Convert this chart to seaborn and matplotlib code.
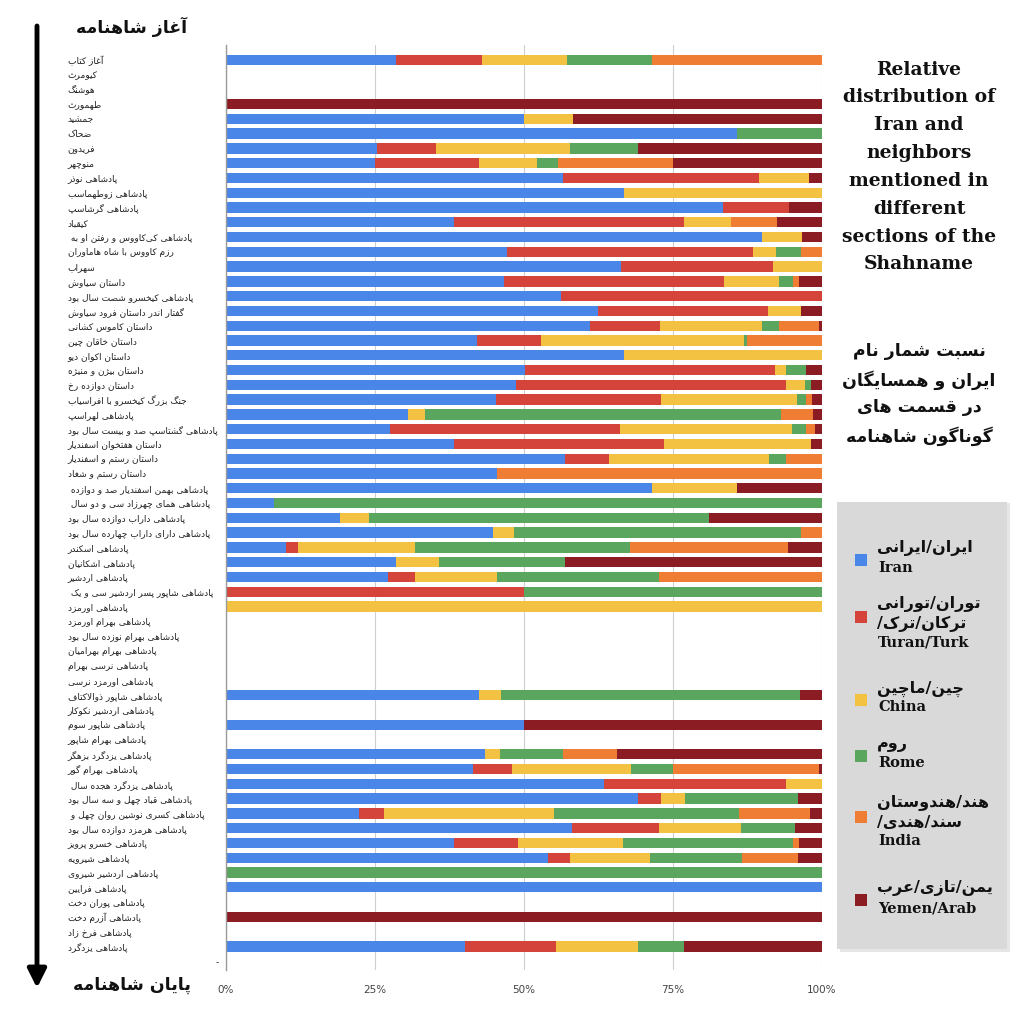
import matplotlib
matplotlib.use("Agg")
import matplotlib.pyplot as plt
import numpy as np
import pandas as pd
import seaborn as sns
from matplotlib.patches import Rectangle
from matplotlib.transforms import ScaledTranslation

# ---------------- data ----------------
sections = [
    "آغاز کتاب", "کیومرث", "هوشنگ", "طهمورث", "جمشید", "ضحاک", "فریدون", "منوچهر",
    "پادشاهی نوذر", "پادشاهی زوطهماسب", "پادشاهی گرشاسپ", "کیقباد",
    "پادشاهی کی\u200cکاووس و رفتن او به ", "رزم کاووس با شاه هاماوران", "سهراب", "داستان سیاوش",
    "پادشاهی کیخسرو شصت سال بود", "گفتار اندر داستان فرود سیاوش", "داستان کاموس کشانی",
    "داستان خاقان چین", "داستان اکوان دیو", "داستان بیژن و منیژه", "داستان دوازده رخ",
    "جنگ بزرگ کیخسرو با افراسیاب", "پادشاهی لهراسپ", "پادشاهی گشتاسپ صد و بیست سال بود",
    "داستان هفتخوان اسفندیار", "داستان رستم و اسفندیار", "داستان رستم و شغاد",
    "پادشاهی بهمن اسفندیار صد و دوازده ", "پادشاهی همای چهرزاد سی و دو سال ",
    "پادشاهی داراب دوازده سال بود", "پادشاهی دارای داراب چهارده سال بود", "پادشاهی اسکندر",
    "پادشاهی اشکانیان", "پادشاهی اردشیر", "پادشاهی شاپور پسر اردشیر سی و یک ",
    "پادشاهی اورمزد", "پادشاهی بهرام اورمزد", "پادشاهی بهرام نوزده سال بود",
    "پادشاهی بهرام بهرامیان", "پادشاهی نرسی بهرام", "پادشاهی اورمزد نرسی",
    "پادشاهی شاپور ذوالاکتاف", "پادشاهی اردشیر نکوکار", "پادشاهی شاپور سوم",
    "پادشاهی بهرام شاپور", "پادشاهی یزدگرد بزهگر", "پادشاهی بهرام گور",
    "پادشاهی یزدگرد هجده سال ", "پادشاهی قباد چهل و سه سال بود",
    "پادشاهی کسری نوشین روان چهل و ", "پادشاهی هرمزد دوازده سال بود", "پادشاهی خسرو پرویز",
    "پادشاهی شیرویه", "پادشاهی اردشیر شیروی", "پادشاهی فرایین", "پادشاهی پوران دخت",
    "پادشاهی آزرم دخت", "پادشاهی فرخ زاد", "پادشاهی یزدگرد", "-",
]

iran = [28.6, 0, 0, 0, 50, 85.7, 25.4, 25, 56.5, 66.7, 83.4, 38.3, 89.9, 47.1, 66.3, 46.6,
        56.2, 62.4, 61.1, 42.1, 66.8, 50.2, 48.7, 45.3, 30.5, 27.5, 38.3, 56.9, 45.5, 71.5,
        8, 19.1, 44.8, 10.1, 28.5, 27.2, 0, 0, 0, 0, 0, 0, 0, 42.4, 0, 50, 0, 43.5, 41.4,
        63.4, 69.1, 22.3, 58, 38.3, 54, 0, 100, 0, 0, 0, 40.1, 0]
turan = [14.3, 0, 0, 0, 0, 0, 9.9, 17.4, 32.9, 0, 11.1, 38.5, 0, 41.3, 25.5, 37,
         43.8, 28.5, 11.7, 10.8, 0, 41.9, 45.3, 27.7, 0, 38.6, 35.2, 7.4, 0, 0,
         0, 0, 0, 2.0, 0, 4.5, 50, 0, 0, 0, 0, 0, 0, 0, 0, 0, 0, 0, 6.6,
         30.6, 3.9, 4.2, 14.7, 10.7, 3.7, 0, 0, 0, 0, 0, 15.3, 0]
china = [14.3, 0, 0, 0, 8.3, 0, 22.5, 9.8, 8.4, 33.3, 0, 7.9, 6.7, 3.9, 8.2, 9.2,
         0, 5.6, 17.1, 34.0, 33.2, 1.9, 3.1, 22.8, 2.9, 28.9, 24.7, 26.8, 0, 14.2,
         0, 4.9, 3.5, 19.6, 7.2, 13.8, 0, 100, 0, 0, 0, 0, 0, 3.7, 0, 0, 0, 2.5, 20,
         6, 4, 28.5, 13.7, 17.6, 13.4, 0, 0, 0, 0, 0, 13.7, 0]
rome = [14.3, 0, 0, 0, 0, 14.3, 11.3, 3.5, 0, 0, 0, 0, 0, 4.2, 0, 2.3,
        0, 0, 2.9, 0.5, 0, 3.3, 1.1, 1.5, 59.7, 2.3, 0, 2.9, 0, 0,
        92, 57, 48.2, 36.1, 21.2, 27.2, 50, 0, 0, 0, 0, 0, 0, 50.2, 0, 0, 0, 10.5, 7,
        0, 19, 31.1, 9.1, 28.5, 15.5, 100, 0, 0, 0, 0, 7.7, 0]
india = [28.5, 0, 0, 0, 0, 0, 0, 19.3, 0, 0, 0, 7.7, 0, 3.5, 0, 1.0,
         0, 0, 6.7, 12.6, 0, 0, 0, 1.0, 5.4, 1.5, 0, 6.0, 54.5, 0,
         0, 0, 3.5, 26.5, 0, 27.3, 0, 0, 0, 0, 0, 0, 0, 0, 0, 0, 0, 9.1, 24.5,
         0, 0, 11.9, 0, 1.0, 9.4, 0, 0, 0, 0, 0, 0, 0]
arab = [0, 0, 0, 100, 41.7, 0, 30.9, 25, 2.2, 0, 5.5, 7.6, 3.4, 0, 0, 3.9,
        0, 3.5, 0.5, 0, 0, 2.7, 1.8, 1.7, 1.5, 1.2, 1.8, 0, 0, 14.3,
        0, 19, 0, 5.7, 43.1, 0, 0, 0, 0, 0, 0, 0, 0, 3.7, 0, 50, 0, 34.4, 0.5,
        0, 4, 2, 4.5, 3.9, 4, 0, 0, 0, 100, 0, 23.2, 0]

series_en = ["Iran", "Turan/Turk", "China", "Rome", "India", "Yemen/Arab"]
series_fa = [["ایران/ایرانی"], ["توران/تورانی", "ترکان/ترک/"], ["چین/ماچین"], ["روم"],
             ["هند/هندوستان", "سند/هندی/"], ["یمن/تازی/عرب"]]
colors = ["#4a86e8", "#d5443a", "#f4c243", "#5ba65e", "#ef7d33", "#8c1c24"]
x_ticks = [0, 25, 50, 75, 100]
x_tick_labels = ["0%", "25%", "50%", "75%", "100%"]
title_en = "Relative\ndistribution of\nIran and\nneighbors\nmentioned in\ndifferent\nsections of the\nShahname"
title_fa = ["نسبت شمار نام", "ایران و همسایگان", "در قسمت های", "گوناگون شاهنامه"]
start_label = "آغاز شاهنامه"
end_label = "پایان شاهنامه"

# ---------------- Persian shaping (presentation forms + RTL order) ----------------
_FORMS_HEX = {
    'آ': 'FE81 FE82', 'أ': 'FE83 FE84', 'ؤ': 'FE85 FE86', 'إ': 'FE87 FE88',
    'ئ': 'FE89 FE8A FE8B FE8C', 'ا': 'FE8D FE8E', 'ب': 'FE8F FE90 FE91 FE92', 'ة': 'FE93 FE94',
    'ت': 'FE95 FE96 FE97 FE98', 'ث': 'FE99 FE9A FE9B FE9C', 'ج': 'FE9D FE9E FE9F FEA0',
    'ح': 'FEA1 FEA2 FEA3 FEA4', 'خ': 'FEA5 FEA6 FEA7 FEA8', 'د': 'FEA9 FEAA', 'ذ': 'FEAB FEAC',
    'ر': 'FEAD FEAE', 'ز': 'FEAF FEB0', 'س': 'FEB1 FEB2 FEB3 FEB4', 'ش': 'FEB5 FEB6 FEB7 FEB8',
    'ص': 'FEB9 FEBA FEBB FEBC', 'ض': 'FEBD FEBE FEBF FEC0', 'ط': 'FEC1 FEC2 FEC3 FEC4',
    'ظ': 'FEC5 FEC6 FEC7 FEC8', 'ع': 'FEC9 FECA FECB FECC', 'غ': 'FECD FECE FECF FED0',
    'ف': 'FED1 FED2 FED3 FED4', 'ق': 'FED5 FED6 FED7 FED8', 'ك': 'FED9 FEDA FEDB FEDC',
    'ل': 'FEDD FEDE FEDF FEE0', 'م': 'FEE1 FEE2 FEE3 FEE4', 'ن': 'FEE5 FEE6 FEE7 FEE8',
    'ه': 'FEE9 FEEA FEEB FEEC', 'و': 'FEED FEEE', 'ى': 'FEEF FEF0', 'ي': 'FEF1 FEF2 FEF3 FEF4',
    'پ': 'FB56 FB57 FB58 FB59', 'چ': 'FB7A FB7B FB7C FB7D', 'ژ': 'FB8A FB8B',
    'ک': 'FB8E FB8F FB90 FB91', 'گ': 'FB92 FB93 FB94 FB95', 'ی': 'FBFC FBFD FBFE FBFF',
}
FORMS = {k: [chr(int(h, 16)) for h in v.split()] for k, v in _FORMS_HEX.items()}
LAM_ALEF = {'ا': '\uFEFB', 'آ': '\uFEF5', 'أ': '\uFEF7', 'إ': '\uFEF9'}


def _dual(c):
    return c in FORMS and len(FORMS[c]) == 4


def shape(text):
    chars = list(text)
    n = len(chars)
    out = []
    i = 0
    while i < n:
        c = chars[i]
        if c not in FORMS:
            if c != '\u200c':
                out.append(c)
            i += 1
            continue
        prev = chars[i - 1] if i > 0 else None
        jp = prev is not None and _dual(prev)
        if c == 'ل' and i + 1 < n and chars[i + 1] in LAM_ALEF:
            lig = LAM_ALEF[chars[i + 1]]
            out.append(chr(ord(lig) + 1) if jp else lig)
            i += 2
            continue
        nxt = chars[i + 1] if i + 1 < n else None
        jn = _dual(c) and nxt is not None and nxt in FORMS
        f = FORMS[c]
        if jp and jn:
            g = f[3]
        elif jp:
            g = f[1]
        elif jn:
            g = f[2]
        else:
            g = f[0]
        out.append(g)
        i += 1
    return ''.join(out)[::-1]


# ---------------- figure ----------------
sns.set_theme(style="white")
plt.rcParams['font.family'] = ['DejaVu Sans']

fig = plt.figure(figsize=(10.24, 10.24), dpi=100)
fig.patch.set_facecolor("white")
ax = fig.add_axes([226 / 1024, 1 - 970 / 1024, (822 - 226) / 1024, (970 - 45) / 1024])

labels = [shape(s) for s in sections]
vals = np.array([iran, turan, china, rome, india, arab], dtype=float).T
cum = np.cumsum(vals, axis=1)

for k in reversed(range(6)):
    sns.barplot(x=cum[:, k], y=labels, order=labels, color=colors[k], orient="h",
                width=0.7, saturation=1, linewidth=0, ax=ax)

ax.set_xlim(0, 100)
ax.set_ylim(61.6, -1.0)
ax.set_xticks(x_ticks)
ax.set_xticklabels(x_tick_labels)
ax.set_xlabel("")
ax.set_ylabel("")
ax.grid(axis="x", color="#cfcfcf", linewidth=0.8)
ax.set_axisbelow(True)
for s in ["top", "right", "bottom"]:
    ax.spines[s].set_visible(False)
ax.spines["left"].set_color("#9a9a9a")
ax.spines["left"].set_linewidth(1.0)

ax.tick_params(axis="x", length=0, pad=11, labelsize=7.5, labelcolor="#444444")
ax.tick_params(axis="y", length=0, pad=114, labelsize=6.5, labelcolor="#222222")
ylabs = ax.get_yticklabels()
for t in ylabs:
    t.set_horizontalalignment("left")
ylabs[-1].set_transform(ylabs[-1].get_transform() + ScaledTranslation(148 / 100, 0, fig.dpi_scale_trans))

# ---------------- arrow & start/end labels ----------------
ax.annotate("", xy=(37 / 1024, 1 - 988 / 1024), xytext=(37 / 1024, 1 - 26 / 1024),
            xycoords="figure fraction", textcoords="figure fraction",
            arrowprops=dict(arrowstyle="-|>", lw=3.5, color="black", mutation_scale=28,
                            shrinkA=0, shrinkB=0),
            annotation_clip=False)
fig.text(132 / 1024, 1 - 27 / 1024, shape(start_label), ha="center", va="center",
         fontsize=12.5, fontweight="bold", color="#111111")
fig.text(132 / 1024, 1 - 985 / 1024, shape(end_label), ha="center", va="center",
         fontsize=12.5, fontweight="bold", color="#111111")

# ---------------- titles ----------------
fig.text(919 / 1024, 1 - 167 / 1024, title_en, ha="center", va="center", fontsize=13.5,
         fontweight="bold", family="DejaVu Serif", linespacing=1.7, color="#111111")
fig.text(919 / 1024, 1 - 394 / 1024, "\n".join(shape(s) for s in title_fa), ha="center",
         va="center", fontsize=12.5, fontweight="bold", linespacing=1.62, color="#111111")

# ---------------- legend ----------------
fig.patches.append(Rectangle((840 / 1024, 1 - 952 / 1024), 170 / 1024, 449 / 1024,
                             transform=fig.transFigure, facecolor="#e6e6e6", edgecolor="none",
                             zorder=0))
fig.patches.append(Rectangle((837 / 1024, 1 - 949 / 1024), 170 / 1024, 447 / 1024,
                             transform=fig.transFigure, facecolor="#d9d9d9", edgecolor="none",
                             zorder=1))
fa_rows = [[548], [604, 624], [689], [745], [802, 822], [888]]
en_rows = [568, 643, 707, 763, 841, 908]
sq_rows = [560, 617, 700, 756, 817, 900]
for k in range(6):
    fig.patches.append(Rectangle((855 / 1024, 1 - (sq_rows[k] + 6) / 1024), 12 / 1024, 12 / 1024,
                                 transform=fig.transFigure, facecolor=colors[k],
                                 edgecolor="none", zorder=2))
    for line, y in zip(series_fa[k], fa_rows[k]):
        fig.text(877 / 1024, 1 - y / 1024, shape(line), ha="left", va="center", fontsize=11.5,
                 fontweight="bold", color="#111111")
    fig.text(878 / 1024, 1 - en_rows[k] / 1024, series_en[k], ha="left", va="center",
             fontsize=10.5, fontweight="bold", family="DejaVu Serif", color="#111111")

fig.savefig("out.png", dpi=100, facecolor="white")
